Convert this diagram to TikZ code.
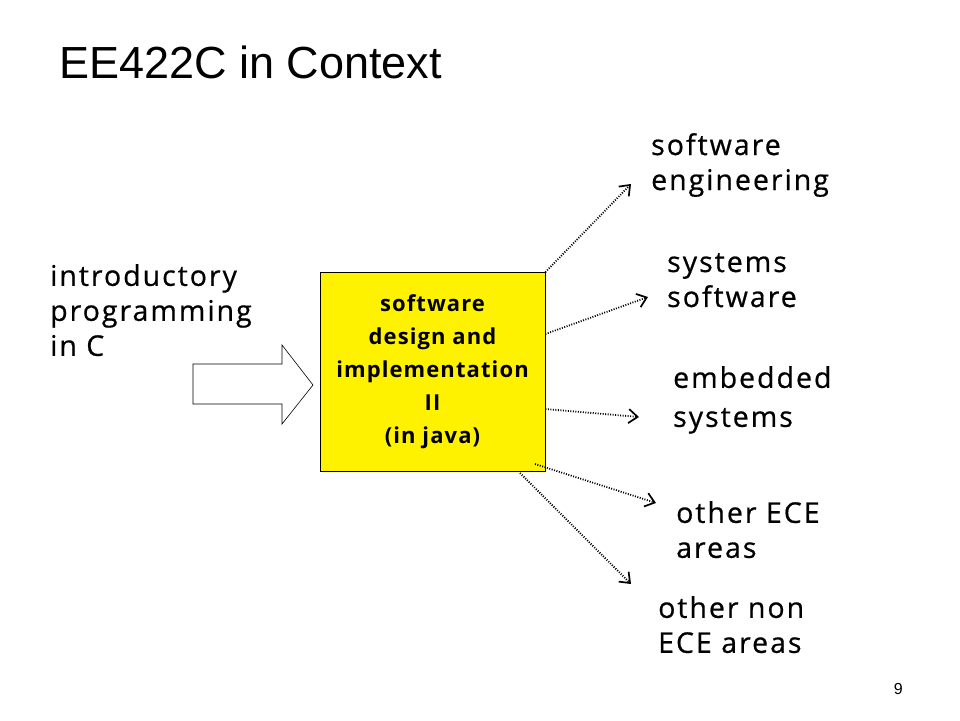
\documentclass[tikz,border=0pt]{standalone}
\usepackage{fontspec}
\setmainfont{Liberation Sans}
\newfontfamily\labfont[LetterSpace=7,FakeBold=0.6]{Open Sans}
\newfontfamily\boxfont[LetterSpace=5]{Open Sans}
\usetikzlibrary{arrows.meta}
\tikzset{
  lab/.style={anchor=north west, inner sep=0pt, align=left, font=\labfont\fontsize{28.5}{35}\selectfont},
  flow/.style={line width=1.8pt, dash pattern=on 1pt off 1.5pt, -{Straight Barb[length=9pt,width=14pt,line width=1.7pt]}},
}
\begin{document}
\begin{tikzpicture}[x=1pt,y=-1pt]
\useasboundingbox[fill=white] (0,0) rectangle (960,720);
\node[anchor=base west, inner sep=0pt, font=\fontsize{45}{50}\selectfont] (title) at (59,78) {EE422C in Context};
\node[lab] (intro) at (50,264) {introductory\\programming\\in C};
\draw[line width=0.6pt, fill=white] (193,364) -- (282,364) -- (282,345) -- (313,385) -- (282,424) -- (282,404) -- (193,404) -- cycle;
\node[draw=black, line width=0.8pt, fill=yellow, minimum width=225pt, minimum height=199pt, inner sep=0pt, align=center, font=\boxfont\bfseries\fontsize{22}{33}\selectfont] (box) at (432.5,372) {software\\design and\\implementation\\II\\(in java)};
\node[lab] (se) at (651,133) {software\\engineering};
\node[lab] (ss) at (667,253) {systems\\software};
\node[lab, font=\labfont\fontsize{28.5}{39}\selectfont] (es) at (673,366) {embedded\\systems};
\node[lab] (oe) at (676,501) {other ECE\\areas};
\node[lab] (one) at (658,596) {other non\\ECE areas};
\node[anchor=base east, inner sep=0pt, font=\fontsize{16}{18}\selectfont] (pg) at (903,694) {9};
\coordinate (a1) at (631,184);
\coordinate (a2) at (648,297);
\coordinate (a3) at (639,417);
\coordinate (a4) at (656,503);
\coordinate (a5) at (631,584);
\draw[flow] (box.north east) -- (a1);
\draw[flow] (box.east |- 0,334) -- (a2);
\draw[flow] (box.east |- 0,409) -- (a3);
\draw[flow] (535,464) -- (a4);
\draw[flow] (520,473) -- (a5);
\end{tikzpicture}
\end{document}
